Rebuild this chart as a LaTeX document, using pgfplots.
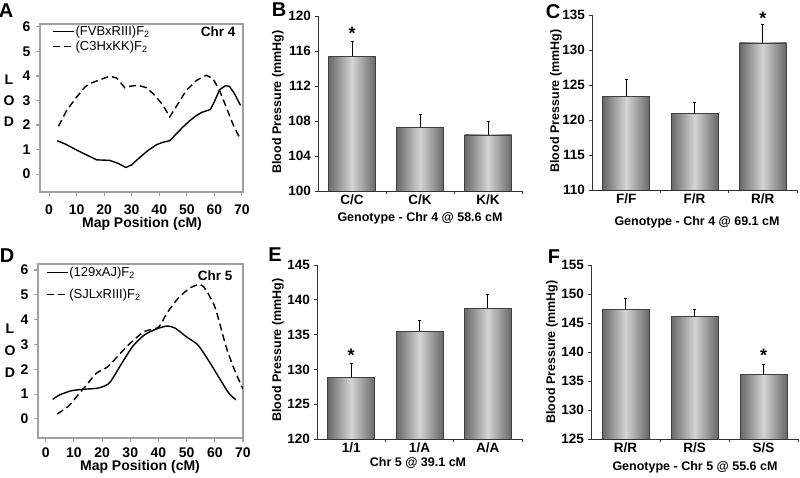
\documentclass[border=0pt]{standalone}
\usepackage{fontspec}
\setmainfont{Liberation Sans}
\usepackage{pgfplots}
\pgfplotsset{compat=1.18}
\definecolor{boxgray}{HTML}{A0A0A0}
\definecolor{bardark}{HTML}{686868}
\definecolor{barlight}{HTML}{D4D4D4}
\newcommand\fs[1]{\fontsize{#1}{#1}\selectfont}
\pgfplotsset{
 lodaxis/.style={scale only axis, axis line style={boxgray, line width=1.1pt},
   tick style={boxgray, line width=1.1pt}, tick align=outside, major tick length=4pt,
   xtick={0,10,...,70}, ytick={0,...,6}, xtick pos=bottom, ytick pos=left,
   ticklabel style={font=\bfseries\fs{14}}, /pgf/number format/assume math mode=true,
   yticklabel style={xshift=-2pt},
   legend style={draw=none, fill=none, font=\fs{13}, inner sep=0pt, anchor=north west,
     cells={anchor=west}, nodes={inner sep=1pt}},
   legend image code/.code={\draw[##1] (0pt,0pt) -- (21pt,0pt);}},
 bpaxis/.style={scale only axis, axis lines*=left, axis line style={black!80, line width=0.9pt},
   xmin=-0.5, xmax=2.5, xtick={0.5,1.5,2.5}, xticklabels={,,},
   extra x ticks={0,1,2}, extra x tick style={major tick length=0pt},
   tick style={black!80, line width=0.9pt}, major tick length=3.5pt, tick align=outside,
   ticklabel style={font=\bfseries\fs{13.5}}, /pgf/number format/assume math mode=true,
   /pgf/number format/1000 sep={}, clip mode=individual},
 bars/.style={ybar, bar shift=0pt, bar width=47pt, draw=black!75, line width=0.8pt,
   left color=bardark, right color=bardark, middle color=barlight,
   error bars/.cd, y dir=plus, y explicit, error bar style={black, line width=0.9pt},
   error mark options={rotate=90, mark size=1.5pt, black, line width=0.9pt}},
}
\begin{document}
\begin{tikzpicture}[x=1pt,y=1pt]
\useasboundingbox (0,0) rectangle (800,478);
% ---------------- A
\begin{axis}[lodaxis, at={(40pt,286pt)}, anchor=south west, width=203pt, height=168pt,
  xmin=-3.3, xmax=70.4, ymin=-0.73, ymax=6.12, xticklabel style={yshift=-5pt},
  legend style={at={(0.059,0.994)}, anchor=north west, row sep=2pt}]
\addplot[black, line width=1.4pt] coordinates {(3,1.36) (6,1.22) (10,0.98) (14,0.76) (17.3,0.58) (22,0.56) (25,0.44) (27.9,0.27) (30,0.38) (33,0.69) (36,0.97) (39,1.2) (41.4,1.3) (43.8,1.36) (46,1.62) (48.6,1.92) (51,2.17) (53.5,2.39) (55.5,2.52) (58.5,2.63) (60,2.95) (61.9,3.44) (64,3.6) (65.5,3.58) (67.3,3.28) (69.5,2.8)};
\addlegendentry{(FVBxRIII)F\textsubscript{2}}
\addplot[black, line width=1.4pt, dash pattern=on 7pt off 4pt] coordinates {(3.4,1.95) (6.4,2.6) (10,3.14) (13,3.55) (14.8,3.69) (18.5,3.85) (22,3.99) (24.5,3.92) (27.5,3.52) (29.3,3.58) (32.3,3.62) (35.4,3.52) (38.4,3.21) (41.4,2.8) (43.8,2.33) (46.2,2.76) (49.8,3.41) (53.5,3.82) (57.1,4.03) (59.5,3.89) (61.9,3.41) (64.3,2.73) (66.7,2.05) (69.3,1.45)};
\addlegendentry{(C3HxKK)F\textsubscript{2}}
\end{axis}
\node[anchor=east, font=\bfseries\fs{13.5}] at (239,446) {Chr 4};
\node[font=\bfseries\fs{14}] at (142,254) {Map Position (cM)};
\node[font=\bfseries\fs{14}] at (9,398) {L};
\node[font=\bfseries\fs{14}] at (9,377) {O};
\node[font=\bfseries\fs{14}] at (9,356) {D};
% ---------------- D
\begin{axis}[lodaxis, at={(38pt,40pt)}, anchor=south west, width=205pt, height=174pt,
  xmin=-2.73, xmax=70, ymin=-0.77, ymax=6.24, xticklabel style={yshift=-2pt},
  legend style={at={(0.038,0.989)}, anchor=north west, row sep=9pt}]
\addplot[black, line width=1.4pt, smooth, tension=0.4] coordinates {(2.5,0.79) (5,0.97) (9,1.13) (13,1.19) (18,1.23) (21,1.33) (23,1.5) (27,2.24) (31,2.94) (35,3.38) (39,3.61) (43,3.74) (46,3.65) (50,3.3) (54,2.98) (58,2.31) (62,1.57) (65,1.03) (67.5,0.77)};
\addlegendentry{(129xAJ)F\textsubscript{2}}
\addplot[black, line width=1.4pt, dash pattern=on 7pt off 4pt, smooth, tension=0.4] coordinates {(4.1,0.2) (8,0.5) (11,0.9) (14,1.3) (18,1.84) (22,2.1) (26,2.58) (30,3.05) (35,3.52) (40,3.69) (43,4.26) (47,4.86) (51,5.26) (54,5.4) (56,5.33) (60,4.52) (64,2.91) (67,1.97) (70,1.2)};
\addlegendentry{(SJLxRIII)F\textsubscript{2}}
\end{axis}
\node[anchor=east, font=\bfseries\fs{13.5}] at (236,202) {Chr 5};
\node[font=\bfseries\fs{14}] at (140,11) {Map Position (cM)};
\node[font=\bfseries\fs{14}] at (10,149) {L};
\node[font=\bfseries\fs{14}] at (10,127) {O};
\node[font=\bfseries\fs{14}] at (10,105) {D};
% ---------------- B
\begin{axis}[bpaxis, at={(318pt,287pt)}, anchor=south west, width=204pt, height=175pt,
  ymin=100, ymax=120, ytick={100,104,...,120}, extra x tick labels={C/C,C/K,K/K}]
\addplot[bars] coordinates {(0,115.4) +- (0,1.7)};
\addplot[bars] coordinates {(1,107.3) +- (0,1.4)};
\addplot[bars] coordinates {(2,106.4) +- (0,1.6)};
\node[anchor=base, font=\bfseries\fs{18}] at (axis cs:0,117.3) {*};
\end{axis}
\node[font=\bfseries\fs{12.5}] at (420,260) {Genotype - Chr 4 @ 58.6 cM};
\node[font=\bfseries\fs{12.5}, rotate=90] at (278,376) {Blood Pressure (mmHg)};
% ---------------- C
\begin{axis}[bpaxis, at={(592pt,288pt)}, anchor=south west, width=205pt, height=175pt,
  ymin=110, ymax=135, ytick={110,115,...,135}, extra x tick labels={F/F,F/R,R/R}]
\addplot[bars] coordinates {(0,123.4) +- (0,2.4)};
\addplot[bars] coordinates {(1,120.9) +- (0,1.6)};
\addplot[bars] coordinates {(2,131.0) +- (0,2.6)};
\node[anchor=base, font=\bfseries\fs{18}] at (axis cs:2,133.7) {*};
\end{axis}
\node[font=\bfseries\fs{12.5}] at (697,256) {Genotype - Chr 4 @ 69.1 cM};
\node[font=\bfseries\fs{12.5}, rotate=90] at (556,377) {Blood Pressure (mmHg)};
% ---------------- E
\begin{axis}[bpaxis, at={(317pt,39pt)}, anchor=south west, width=205pt, height=174pt,
  ymin=120, ymax=145, ytick={120,125,...,145}, extra x tick labels={1/1,1/A,A/A}]
\addplot[bars] coordinates {(0,128.8) +- (0,2.0)};
\addplot[bars] coordinates {(1,135.5) +- (0,1.5)};
\addplot[bars] coordinates {(2,138.8) +- (0,2.0)};
\node[anchor=base, font=\bfseries\fs{18}] at (axis cs:0,131.1) {*};
\end{axis}
\node[font=\bfseries\fs{12.5}] at (418,15) {Chr 5 @ 39.1 cM};
\node[font=\bfseries\fs{12.5}, rotate=90] at (278,128) {Blood Pressure (mmHg)};
% ---------------- F
\begin{axis}[bpaxis, at={(591pt,39pt)}, anchor=south west, width=207pt, height=174pt,
  ymin=125, ymax=155, ytick={125,130,...,155}, extra x tick labels={R/R,R/S,S/S}]
\addplot[bars] coordinates {(0,147.4) +- (0,1.9)};
\addplot[bars] coordinates {(1,146.1) +- (0,1.3)};
\addplot[bars] coordinates {(2,136.1) +- (0,1.8)};
\node[anchor=base, font=\bfseries\fs{18}] at (axis cs:2,138.3) {*};
\end{axis}
\node[font=\bfseries\fs{12.5}] at (695,11) {Genotype - Chr 5 @ 55.6 cM};
\node[font=\bfseries\fs{12.5}, rotate=90] at (552,126) {Blood Pressure (mmHg)};
% ---------------- panel letters
\node[font=\bfseries\fs{20}] at (6,467) {A};
\node[font=\bfseries\fs{20}] at (279,468) {B};
\node[font=\bfseries\fs{20}] at (553,466) {C};
\node[font=\bfseries\fs{20}] at (7,222) {D};
\node[font=\bfseries\fs{20}] at (275,223) {E};
\node[font=\bfseries\fs{20}] at (554,221) {F};
\end{tikzpicture}
\end{document}
